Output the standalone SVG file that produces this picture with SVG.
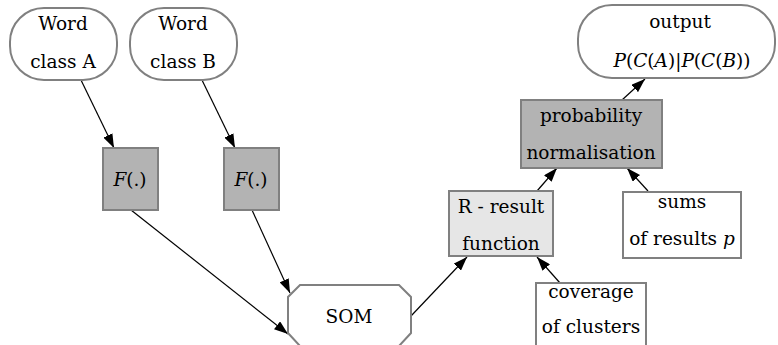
<svg xmlns="http://www.w3.org/2000/svg" width="778" height="345" viewBox="0 0 778 345">
  <defs>
    <marker id="arrow" viewBox="0 0 14 10" refX="14" refY="5" markerWidth="14" markerHeight="10" markerUnits="userSpaceOnUse" orient="auto">
      <path d="M0,0 L14,5 L0,10 z" fill="#000"/>
    </marker>
    <style>
      .node { stroke: #808080; stroke-width: 2; }
      .white { fill: #ffffff; }
      .dark { fill: #b3b3b3; }
      .light { fill: #e6e6e6; }
      .lbl { font-family: 'DejaVu Serif', 'Liberation Serif', serif; font-size: 18.5px; fill: #000; text-anchor: middle; }
      .m { font-style: italic; }
      .edge { stroke: #000; stroke-width: 1.2; fill: none; marker-end: url(#arrow); }
    </style>
  </defs>

  <!-- connectors -->
  <g id="edges">
    <line class="edge" x1="80" y1="78" x2="114" y2="148"/>
    <line class="edge" x1="201" y1="78" x2="235" y2="148"/>
    <line class="edge" x1="131" y1="210" x2="288" y2="334"/>
    <line class="edge" x1="252" y1="210" x2="290" y2="293"/>
    <line class="edge" x1="411" y1="316" x2="467" y2="257"/>
    <line class="edge" x1="560" y1="283" x2="537" y2="257"/>
    <line class="edge" x1="537" y1="191" x2="557" y2="168"/>
    <line class="edge" x1="648" y1="191" x2="627" y2="168"/>
    <line class="edge" x1="622" y1="100" x2="645" y2="79"/>
  </g>

  <g id="wordA">
    <rect class="node white" x="10" y="8" width="107" height="72" rx="34" ry="34"/>
    <text class="lbl" x="63" y="30">Word</text>
    <text class="lbl" x="63" y="68">class A</text>
  </g>

  <g id="wordB">
    <rect class="node white" x="130" y="8" width="107" height="72" rx="34" ry="34"/>
    <text class="lbl" x="183" y="30">Word</text>
    <text class="lbl" x="183" y="68">class B</text>
  </g>

  <g id="output">
    <rect class="node white" x="578" y="5" width="197" height="73" rx="34" ry="34"/>
    <text class="lbl" x="680" y="28">output</text>
    <text class="lbl" x="682" y="67"><tspan class="m">P</tspan>(<tspan class="m">C</tspan>(<tspan class="m">A</tspan>)|<tspan class="m">P</tspan>(<tspan class="m">C</tspan>(<tspan class="m">B</tspan>))</text>
  </g>

  <g id="fA">
    <rect class="node dark" x="103" y="148" width="55" height="62"/>
    <text class="lbl" x="130" y="186"><tspan class="m">F</tspan>(.)</text>
  </g>

  <g id="fB">
    <rect class="node dark" x="224" y="148" width="55" height="62"/>
    <text class="lbl" x="251" y="186"><tspan class="m">F</tspan>(.)</text>
  </g>

  <g id="som">
    <polygon class="node white" points="300,285 399,285 411,297 411,333 399,346 300,346 288,333 288,297"/>
    <text class="lbl" x="349" y="323">SOM</text>
  </g>

  <g id="result">
    <rect class="node light" x="449" y="191" width="104" height="65"/>
    <text class="lbl" x="501" y="213">R - result</text>
    <text class="lbl" x="501" y="250">function</text>
  </g>

  <g id="prob">
    <rect class="node dark" x="521" y="100" width="141" height="68"/>
    <text class="lbl" x="591" y="122">probability</text>
    <text class="lbl" x="591" y="159">normalisation</text>
  </g>

  <g id="sums">
    <rect class="node white" x="623" y="192" width="118" height="66"/>
    <text class="lbl" x="682" y="208">sums</text>
    <text class="lbl" x="682" y="245">of results <tspan class="m">p</tspan></text>
  </g>

  <g id="coverage">
    <rect class="node white" x="536" y="283" width="110" height="70"/>
    <text class="lbl" x="591" y="298">coverage</text>
    <text class="lbl" x="591" y="333">of clusters</text>
  </g>
</svg>
